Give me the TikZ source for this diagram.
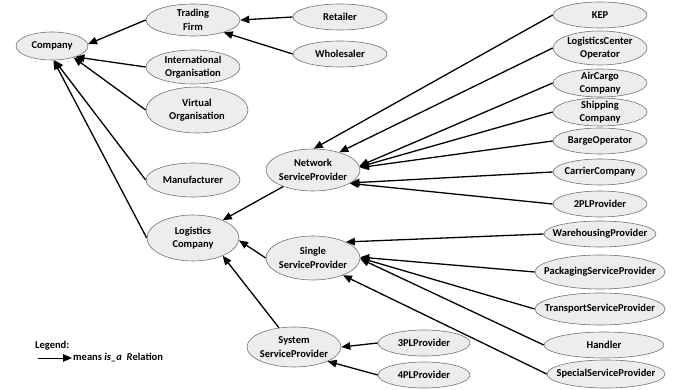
\documentclass[tikz,border=0pt]{standalone}
\usepackage{fontspec}
\setmainfont{Carlito}
\usetikzlibrary{shapes.geometric,arrows.meta}
\tikzset{
  ent/.style={ellipse, draw=black!55, fill=black!7, line width=0.6pt, inner sep=0pt},
  txt/.style={align=center, font=\bfseries\fontsize{10.5}{13.5}\selectfont, inner sep=0pt},
  isa/.style={line width=1.3pt, -{Triangle[length=9pt,width=7.5pt]}},
}
\newcommand\EN[6]{%
  \node[ent, minimum width=#4pt, minimum height=#5pt] (#1) at (#2,#3) {};
  \node[txt] (#1-t) at (#1) {#6};}
\begin{document}
\begin{tikzpicture}[x=1pt,y=-1pt]
\useasboundingbox (0,0) rectangle (686,390);
\EN{company}{52}{46}{72}{28}{Company}
\EN{trading}{193}{20}{94}{32}{Trading\\Firm}
\EN{retailer}{340}{17}{94}{26}{Retailer}
\EN{wholesaler}{340}{54}{94}{26}{Wholesaler}
\EN{intl}{193}{67}{94}{34}{International\\Organisation}
\EN{virtual}{197}{110}{102}{46}{Virtual\\Organisation}
\EN{manu}{193}{180}{94}{34}{Manufacturer}
\EN{network}{313}{170}{94}{42}{Network\\ServiceProvider}
\EN{logco}{193}{238}{92}{46}{Logistics\\Company}
\EN{single}{313}{258}{94}{44}{Single\\ServiceProvider}
\EN{system}{294}{347}{94}{40}{System\\ServiceProvider}
\EN{kep}{600}{15}{94}{26}{KEP}
\EN{lco}{600}{48}{94}{34}{LogisticsCenter\\Operator}
\EN{aircargo}{600}{83}{94}{28}{AirCargo\\Company}
\EN{shipping}{600}{112}{94}{28}{Shipping\\Company}
\EN{barge}{600}{141}{94}{26}{BargeOperator}
\EN{carrier}{600}{172}{94}{26}{CarrierCompany}
\EN{twopl}{600}{204}{94}{26}{2PLProvider}
\EN{warehousing}{600}{234}{112}{26}{WarehousingProvider}
\EN{packaging}{600}{272}{130}{34}{PackagingServiceProvider}
\EN{transport}{600}{309}{130}{32}{TransportServiceProvider}
\EN{handler}{604}{345}{120}{26}{Handler}
\EN{special}{606}{374}{118}{28}{SpecialServiceProvider}
\EN{threepl}{424}{343}{92}{26}{3PLProvider}
\EN{fourpl}{424}{375}{92}{26}{4PLProvider}

\draw[isa] (trading.west) -- (company.3);
\draw[isa] (intl.west) -- (company.-25);
\draw[isa] (virtual.west) -- (company.-28);
\draw[isa] (manu.west) -- (company.-80);
\draw[isa] (logco.west) -- (company.-84);
\draw[isa] (retailer.west) -- (trading.0);
\draw[isa] (wholesaler.west) -- (trading.-22);
\draw[isa] (network) -- (logco.31);
\draw[isa] (single.west) -- (logco.-3);
\draw[isa] (system) -- (logco.-31);
\draw[isa] (kep.west) -- (network.88);
\draw[isa] (lco.west) -- (network.34);
\draw[isa] (aircargo.west) -- (network.5);
\draw[isa] (shipping.west) -- (network.4);
\draw[isa] (barge.west) -- (network.3);
\draw[isa] (carrier.west) -- (network.-19);
\draw[isa] (twopl.west) -- (network.-20);
\draw[isa] (warehousing.west) -- (single.26);
\draw[isa] (packaging.west) -- (single.1);
\draw[isa] (transport.west) -- (single.0);
\draw[isa] (handler.west) -- (single.-1);
\draw[isa] (special.west) -- (single.-30);
\draw[isa] (threepl.west) -- (system.0);
\draw[isa] (fourpl.west) -- (system.-23);

\node[txt, anchor=west] (legend) at (35,346) {Legend:};
\coordinate (lgA) at (38,358);
\coordinate (lgB) at (72,358);
\draw[isa, line width=1pt] (lgA) -- (lgB);
\node[txt, anchor=west] (legtxt) at (73,358) {means \textit{is\_a}\ \ \textit{R}elation};
\end{tikzpicture}
\end{document}
